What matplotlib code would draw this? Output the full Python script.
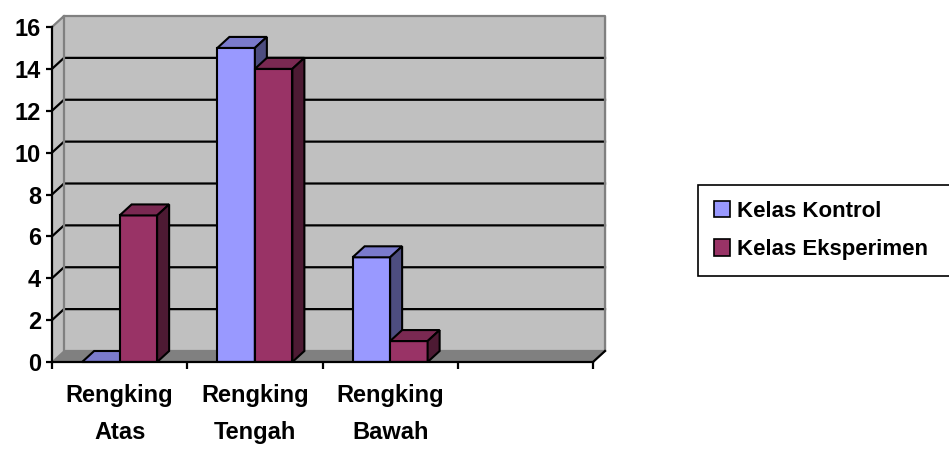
import matplotlib
matplotlib.use("Agg")
import matplotlib.pyplot as plt
from matplotlib.patches import Patch
import numpy as np

categories = ["Rengking\nAtas", "Rengking\nTengah", "Rengking\nBawah"]
series_names = ["Kelas Kontrol", "Kelas Eksperimen"]
kontrol = [0, 15, 5]
eksperimen = [7, 14, 1]
yticks = [0, 2, 4, 6, 8, 10, 12, 14, 16]

# front / top / side shades (old Excel palette)
colors = {
    "Kelas Kontrol": ("#9999ff", "#7a7acc", "#4d4d80"),
    "Kelas Eksperimen": ("#993366", "#7a2952", "#4d1a33"),
}

plt.rcParams["font.family"] = ["Liberation Sans", "DejaVu Sans"]
plt.rcParams["font.weight"] = "bold"

W, H = 949, 449
fig = plt.figure(figsize=(W / 100, H / 100), dpi=100)
ax = fig.add_axes([52 / W, 1 - 362 / H, (604 - 52) / W, (362 - 16) / H])

n_slots = 4
ymax = 16
px_per_cat = (593 - 52) / n_slots
px_per_unit = (362 - 27) / ymax
ax.set_xlim(0, (604 - 52) / px_per_cat)
ax.set_ylim(0, (362 - 16) / px_per_unit)
ax.patch.set_visible(False)

# depth offset of the 3D look, in data units
dx = 12 / px_per_cat
dy = 11 / px_per_unit

wall = "#c0c0c0"
ax.fill([dx, n_slots + dx, n_slots + dx, dx], [dy, dy, ymax + dy, ymax + dy],
        color=wall, zorder=0, clip_on=False)
ax.fill([0, dx, dx, 0], [0, dy, ymax + dy, ymax], color=wall, zorder=0, clip_on=False)
ax.fill([0, n_slots, n_slots + dx, dx], [0, 0, dy, dy], color="#808080", zorder=0,
        clip_on=False)

for v in yticks[1:-1]:
    ax.plot([0, dx, n_slots + dx], [v, v + dy, v + dy], color="black", lw=1.6,
            zorder=1, clip_on=False)
ax.plot([0, dx, n_slots + dx, n_slots + dx, dx, dx],
        [ymax, ymax + dy, ymax + dy, dy, dy, ymax + dy], color="#808080", lw=1.6,
        zorder=1, clip_on=False)
ax.plot([n_slots, n_slots + dx], [0, dy], color="black", lw=1.6, zorder=2, clip_on=False)

w = 75 / px_per_cat / 2
z = 3
for i in range(len(categories)):
    c = i + 0.5
    for j, (name, vals) in enumerate(zip(series_names, [kontrol, eksperimen])):
        front, top, side = colors[name]
        x0 = c - w + j * w
        v = vals[i]
        ax.bar(x0, v, width=w, align="edge", color=front, edgecolor="black", lw=1.5,
               zorder=z)
        ax.fill([x0, x0 + w, x0 + w + dx, x0 + dx], [v, v, v + dy, v + dy],
                facecolor=top, edgecolor="black", lw=1.5, zorder=z, clip_on=False)
        ax.fill([x0 + w, x0 + w + dx, x0 + w + dx, x0 + w], [0, dy, v + dy, v],
                facecolor=side, edgecolor="black", lw=1.5, zorder=z, clip_on=False)
        z += 1

for s in ["top", "right"]:
    ax.spines[s].set_visible(False)
ax.spines["left"].set_bounds(0, ymax)
ax.spines["bottom"].set_bounds(0, n_slots)
ax.spines["left"].set_linewidth(1.6)
ax.spines["bottom"].set_linewidth(1.6)
ax.spines["left"].set_zorder(20)
ax.spines["bottom"].set_zorder(20)

ax.set_yticks(yticks)
ax.set_yticklabels([str(t) for t in yticks], fontsize=17, fontweight="bold")
ax.tick_params(axis="y", length=4, width=1.6, pad=4)

ax.set_xticks(np.arange(len(categories)) + 0.5)
ax.set_xticklabels(categories, fontsize=17, fontweight="bold", linespacing=1.75)
ax.set_xticks(np.arange(n_slots + 1), minor=True)
ax.tick_params(axis="x", which="major", length=0, pad=16)
ax.tick_params(axis="x", which="minor", length=5, width=1.6)

# legend box runs past the right edge of the picture, as in the original
handles = [Patch(facecolor=colors[n][0], edgecolor="black", lw=1.2) for n in series_names]
leg = fig.legend(handles, series_names, loc="upper left", mode="expand",
                 bbox_to_anchor=(698 / W, 1 - 185 / H, 280 / W, 0),
                 prop={"weight": "bold", "size": 16},
                 handlelength=0.75, handleheight=0.75, handletextpad=0.3,
                 labelspacing=0.8, borderpad=0.7, borderaxespad=0,
                 fancybox=False, framealpha=1)
leg.get_frame().set_edgecolor("black")
leg.get_frame().set_linewidth(1.2)

fig.savefig("out.png", dpi=100)
